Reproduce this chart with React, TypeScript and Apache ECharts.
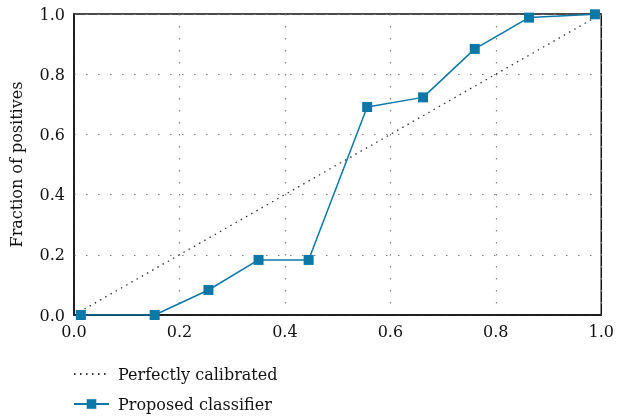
import React, { useEffect, useRef } from "react";
import * as echarts from "echarts";

const meanPredicted = [0.013, 0.153, 0.255, 0.35, 0.445, 0.556, 0.662, 0.76, 0.863, 0.988];
const fractionPositives = [0.0, 0.0, 0.083, 0.183, 0.183, 0.691, 0.723, 0.884, 0.988, 0.999];
const diagonalX = [0, 1];
const diagonalY = [0, 1];
const seriesNames = ["Perfectly calibrated", "Proposed classifier"];

const FONT = "DejaVu Serif";
const FS = 16;
const BLUE = "#0C78A8";

export default function App() {
  const ref = useRef<HTMLDivElement>(null);
  useEffect(() => {
    if (!ref.current) return;
    const chart = echarts.init(ref.current, undefined, { renderer: "svg" });
    const gridLine = { show: true, lineStyle: { color: "#808080", width: 1.2, type: [1.5, 10.5] as any } };
    chart.setOption({
      animation: false,
      textStyle: { fontFamily: FONT },
      grid: {
        left: 74,
        right: 14,
        top: 14,
        bottom: 104,
        show: true,
        borderColor: "#111",
        borderWidth: 1.5,
        backgroundColor: "transparent",
      },
      xAxis: {
        type: "value",
        min: 0,
        max: 1,
        interval: 0.2,
        axisLine: { show: true, lineStyle: { color: "#111", width: 1.5 } },
        axisTick: { show: false },
        axisLabel: { color: "#111", fontSize: FS, fontFamily: FONT, margin: 8, formatter: (v: number) => v.toFixed(1) },
        splitLine: gridLine,
      },
      yAxis: {
        type: "value",
        min: 0,
        max: 1,
        interval: 0.2,
        name: "Fraction of positives",
        nameLocation: "middle",
        nameGap: 50,
        nameTextStyle: { color: "#111", fontSize: FS, fontFamily: FONT },
        axisLine: { show: true, lineStyle: { color: "#111", width: 1.5 } },
        axisTick: { show: false },
        axisLabel: { color: "#111", fontSize: FS, fontFamily: FONT, margin: 9, formatter: (v: number) => v.toFixed(1) },
        splitLine: gridLine,
      },
      legend: {
        orient: "vertical",
        left: 68,
        top: 361,
        height: 58,
        itemWidth: 35,
        itemHeight: 12,
        itemGap: 14,
        textStyle: { color: "#111", fontSize: FS, fontFamily: FONT, padding: [0, 0, 0, 4] },
        data: [
          { name: seriesNames[0], itemStyle: { opacity: 0 } },
          { name: seriesNames[1] },
        ],
      },
      series: [
        {
          name: seriesNames[0],
          type: "line",
          data: diagonalX.map((x, i) => [x, diagonalY[i]]),
          symbol: "none",
          lineStyle: { color: "#333", width: 1.3, type: [1.5, 4.5] },
          itemStyle: { color: "#333" },
          z: 3,
        },
        {
          name: seriesNames[1],
          type: "line",
          data: meanPredicted.map((x, i) => [x, fractionPositives[i]]),
          symbol: "rect",
          symbolSize: 10,
          lineStyle: { color: BLUE, width: 1.5 },
          itemStyle: { color: BLUE },
          z: 4,
        },
      ],
    });
    return () => chart.dispose();
  }, []);
  return <div ref={ref} style={{ position: "fixed", left: 0, top: 0, width: 617, height: 419 }} />;
}
